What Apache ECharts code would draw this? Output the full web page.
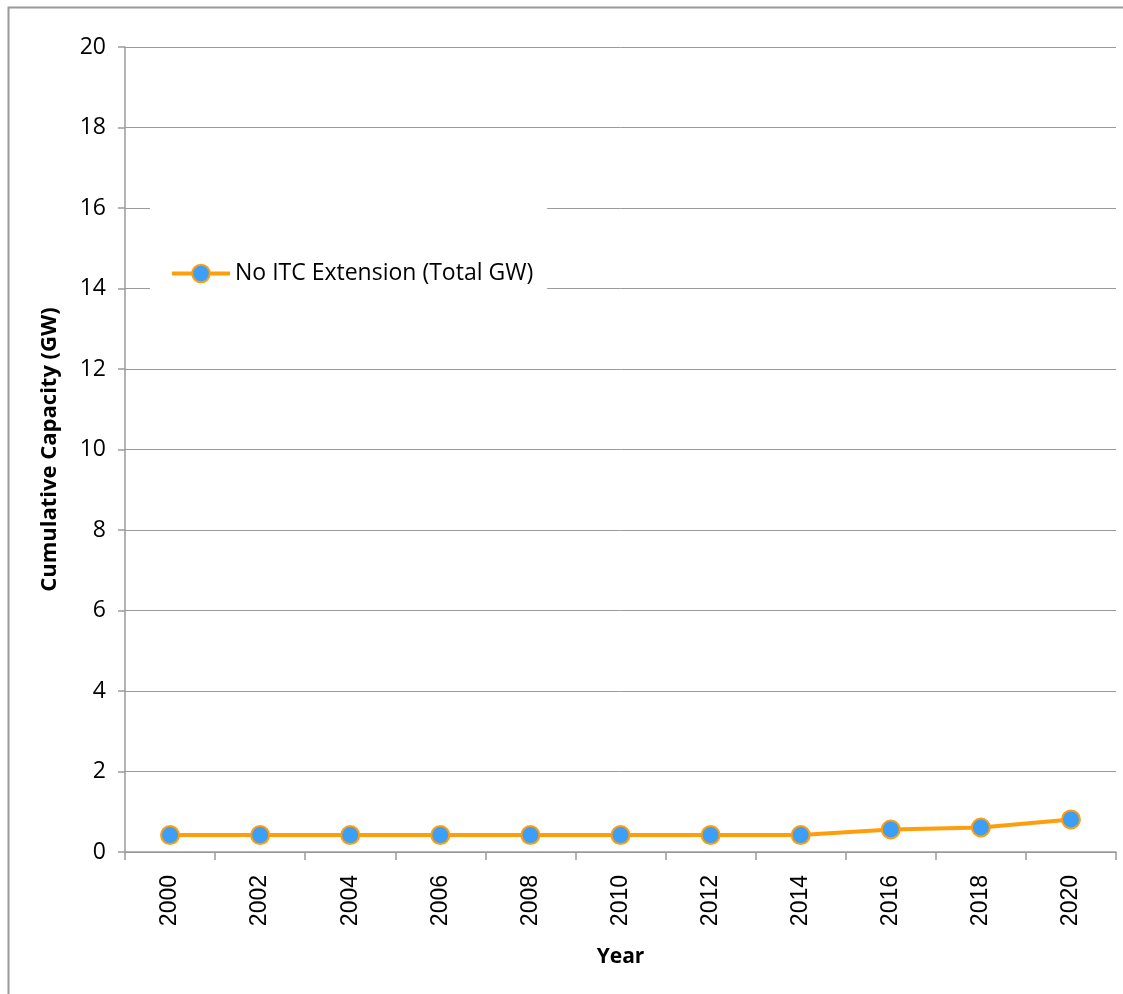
<!DOCTYPE html>
<html><head><meta charset="utf-8">
<script src="https://cdn.jsdelivr.net/npm/echarts@6/dist/echarts.min.js"></script>
<style>html,body{margin:0;padding:0;background:#fff;}#c{width:1123px;height:994px;}</style>
</head><body><div id="c"></div>
<script>
var years = ['2000','2002','2004','2006','2008','2010','2012','2014','2016','2018','2020'];
var noItcTotal = [0.42,0.42,0.42,0.42,0.42,0.42,0.42,0.42,0.56,0.61,0.81];
var seriesName = 'No ITC Extension (Total GW)';
var yTicks = {min:0, max:20, interval:2};

var chart = echarts.init(document.getElementById('c'), null, {renderer:'canvas'});
chart.setOption({
  backgroundColor:'#fff',
  animation:false,
  graphic:[{type:'rect', shape:{x:8.5,y:7.5,width:1200,height:1100}, style:{fill:'none',stroke:'#9a9a9a',lineWidth:2}, z:-1}],
  grid:{left:125,right:7,top:47,bottom:142},
  legend:{
    data:[{name:seriesName}],
    left:150, top:200, orient:'vertical',
    backgroundColor:'#fff',
    padding:[62,14,30,20],
    itemWidth:58, itemHeight:22, itemGap:6,
    lineStyle:{width:4},
    textStyle:{fontFamily:'"Open Sans", "Noto Sans", sans-serif', fontSize:23, color:'#000'},
    z:10
  },
  xAxis:{
    type:'category', data:years, boundaryGap:true,
    axisLine:{lineStyle:{color:'#9a9a9a',width:1.5}},
    axisTick:{show:true, length:8, alignWithLabel:false, lineStyle:{color:'#9a9a9a',width:1.5}},
    axisLabel:{rotate:90, margin:23, fontFamily:'"Liberation Sans", Arial, sans-serif', fontSize:23, color:'#000'},
    name:'Year', nameLocation:'middle', nameGap:95,
    nameTextStyle:{fontFamily:'"Open Sans", "Noto Sans", sans-serif', fontWeight:'bold', fontSize:21, color:'#000'}
  },
  yAxis:{
    type:'value', min:yTicks.min, max:yTicks.max, interval:yTicks.interval,
    axisLine:{show:true, lineStyle:{color:'#9a9a9a',width:1.5}},
    axisTick:{show:true, inside:false, length:7, lineStyle:{color:'#9a9a9a',width:1.5}},
    splitLine:{show:true, lineStyle:{color:'#9a9a9a',width:1}},
    axisLabel:{margin:19, fontFamily:'"Open Sans", "Noto Sans", sans-serif', fontSize:23, color:'#000'},
    name:'Cumulative Capacity (GW)', nameLocation:'middle', nameGap:64,
    nameTextStyle:{fontFamily:'"Open Sans", "Noto Sans", sans-serif', fontWeight:'bold', fontSize:22, color:'#000'}
  },
  series:[{
    name:seriesName, type:'line', data:noItcTotal,
    symbol:'circle', symbolSize:18,
    lineStyle:{color:'#ff9e0c', width:4},
    itemStyle:{color:'#3d9ef8', borderColor:'#ff9e0c', borderWidth:2},
    z:5
  }]
});
</script></body></html>
